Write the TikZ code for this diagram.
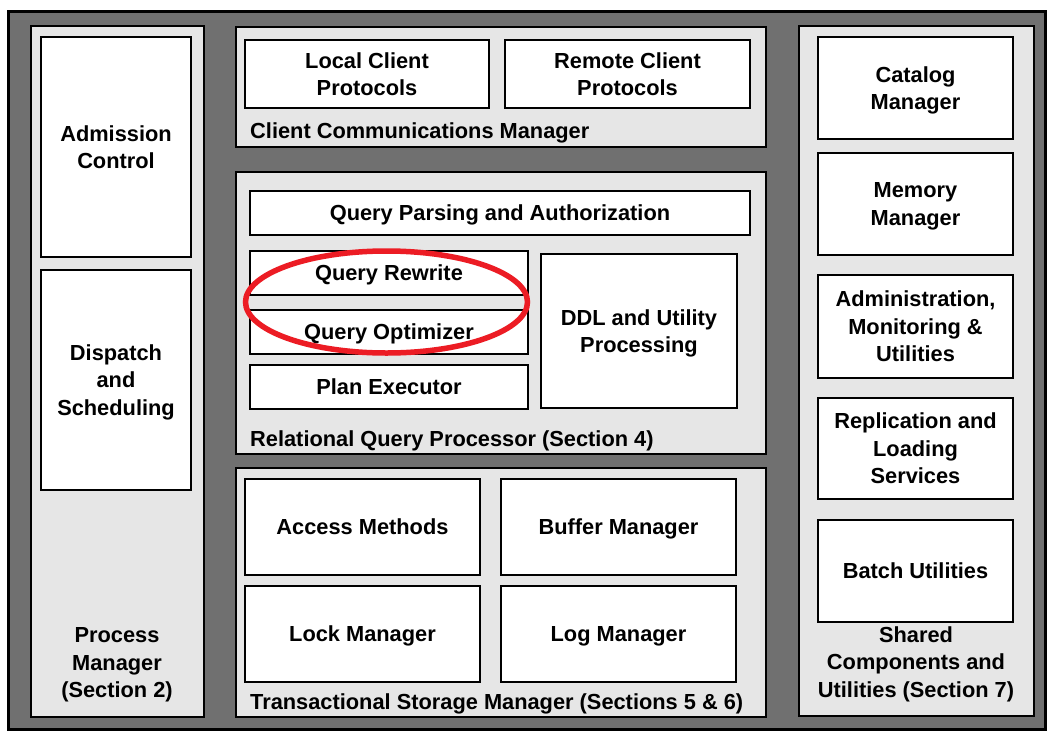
\documentclass[tikz,border=0pt]{standalone}
\usepackage{fontspec}
\setmainfont{Liberation Sans}
\usepackage{tikz}
\usetikzlibrary{positioning}
\definecolor{backgray}{RGB}{112,112,112}
\definecolor{panelgray}{RGB}{230,230,230}
\definecolor{markred}{RGB}{236,28,36}
\tikzset{
	panelnode/.style={rectangle, draw=black, fill=panelgray, line width=2.4pt, inner sep=0pt},
	compnode/.style={rectangle, draw=black, fill=white, line width=2pt, inner sep=0pt, align=center, text depth=0pt,
		font=\fontsize{21.8}{27.5}\selectfont\bfseries},
	labelnode/.style={inner sep=0pt, align=center, font=\fontsize{21.8}{27.5}\selectfont\bfseries}
}
\begin{document}
\begin{tikzpicture}[x=1pt, y=-1pt]
		\useasboundingbox (0,0) rectangle (1053,737);
		\node[rectangle, draw=black, fill=backgray, line width=3pt, minimum width=1037pt, minimum height=718pt] at (526.5,370) (dbms) {};

		% process manager
		\node[panelnode, minimum width=173pt, minimum height=691pt] at (117.5,371.5) (procmgr) {};
		\node[compnode, minimum width=150pt, minimum height=220pt] at (116,147) (admit) {Admission\\Control};
		\node[compnode, minimum width=150pt, minimum height=220pt] at (116,380) (dispatch) {Dispatch\\and\\Scheduling};
		\node[labelnode] at (117,665) (proct) {Process\\Manager\\(Section 2)};

		% client communications manager
		\node[panelnode, minimum width=530pt, minimum height=120pt] at (501,87) (ccm) {};
		\node[compnode, minimum width=244pt, minimum height=68pt] at (367,74) (local) {Local Client\\Protocols};
		\node[compnode, minimum width=245pt, minimum height=68pt] at (627.5,74) (remote) {Remote Client\\Protocols};
		\node[labelnode, anchor=west] at (250,133) (ccmt) {Client Communications Manager};

		% relational query processor
		\node[panelnode, minimum width=530pt, minimum height=282pt] at (501,313) (rqp) {};
		\node[compnode, minimum width=500pt, minimum height=44pt] at (500,213) (parse) {Query Parsing and Authorization};
		\node[compnode, minimum width=278pt, minimum height=44pt] at (389,273) (rewrite) {Query Rewrite};
		\node[compnode, minimum width=278pt, minimum height=44pt] at (389,332) (optim) {Query Optimizer};
		\node[compnode, minimum width=278pt, minimum height=44pt] at (389,387) (plan) {Plan Executor};
		\node[compnode, minimum width=196pt, minimum height=154pt] at (639,331) (ddl) {DDL and Utility\\Processing};
		\node[labelnode, anchor=west] at (250,441) (rqpt) {Relational Query Processor (Section 4)};

		% transactional storage manager
		\node[panelnode, minimum width=530pt, minimum height=249pt] at (501,592.5) (tsm) {};
		\node[compnode, minimum width=235pt, minimum height=96pt] at (362.5,527) (access) {Access Methods};
		\node[compnode, minimum width=235pt, minimum height=96pt] at (618.5,527) (buffer) {Buffer Manager};
		\node[compnode, minimum width=235pt, minimum height=96pt] at (362.5,634) (lock) {Lock Manager};
		\node[compnode, minimum width=235pt, minimum height=96pt] at (618.5,634) (logm) {Log Manager};
		\node[labelnode, anchor=west] at (250,704) (tsmt) {Transactional Storage Manager (Sections 5 \& 6)};

		% shared components
		\node[panelnode, minimum width=235pt, minimum height=690pt] at (916.5,371) (shared) {};
		\node[compnode, minimum width=195pt, minimum height=102pt] at (915.5,88) (catalog) {Catalog\\Manager};
		\node[compnode, minimum width=195pt, minimum height=102pt] at (915.5,204) (memory) {Memory\\Manager};
		\node[compnode, minimum width=195pt, minimum height=103pt] at (915.5,326.5) (admin) {Administration,\\Monitoring \&\\Utilities};
		\node[compnode, minimum width=195pt, minimum height=101pt] at (915.5,448.5) (repl) {Replication and\\Loading\\Services};
		\node[compnode, minimum width=195pt, minimum height=102pt] at (915.5,571) (batch) {Batch Utilities};
		\node[labelnode] at (916,664) (sharedt) {Shared\\Components and\\Utilities (Section 7)};

		\draw[markred, line width=5.5pt] (386.5,302) ellipse [x radius=141pt, y radius=51pt];
	\end{tikzpicture}
\end{document}
